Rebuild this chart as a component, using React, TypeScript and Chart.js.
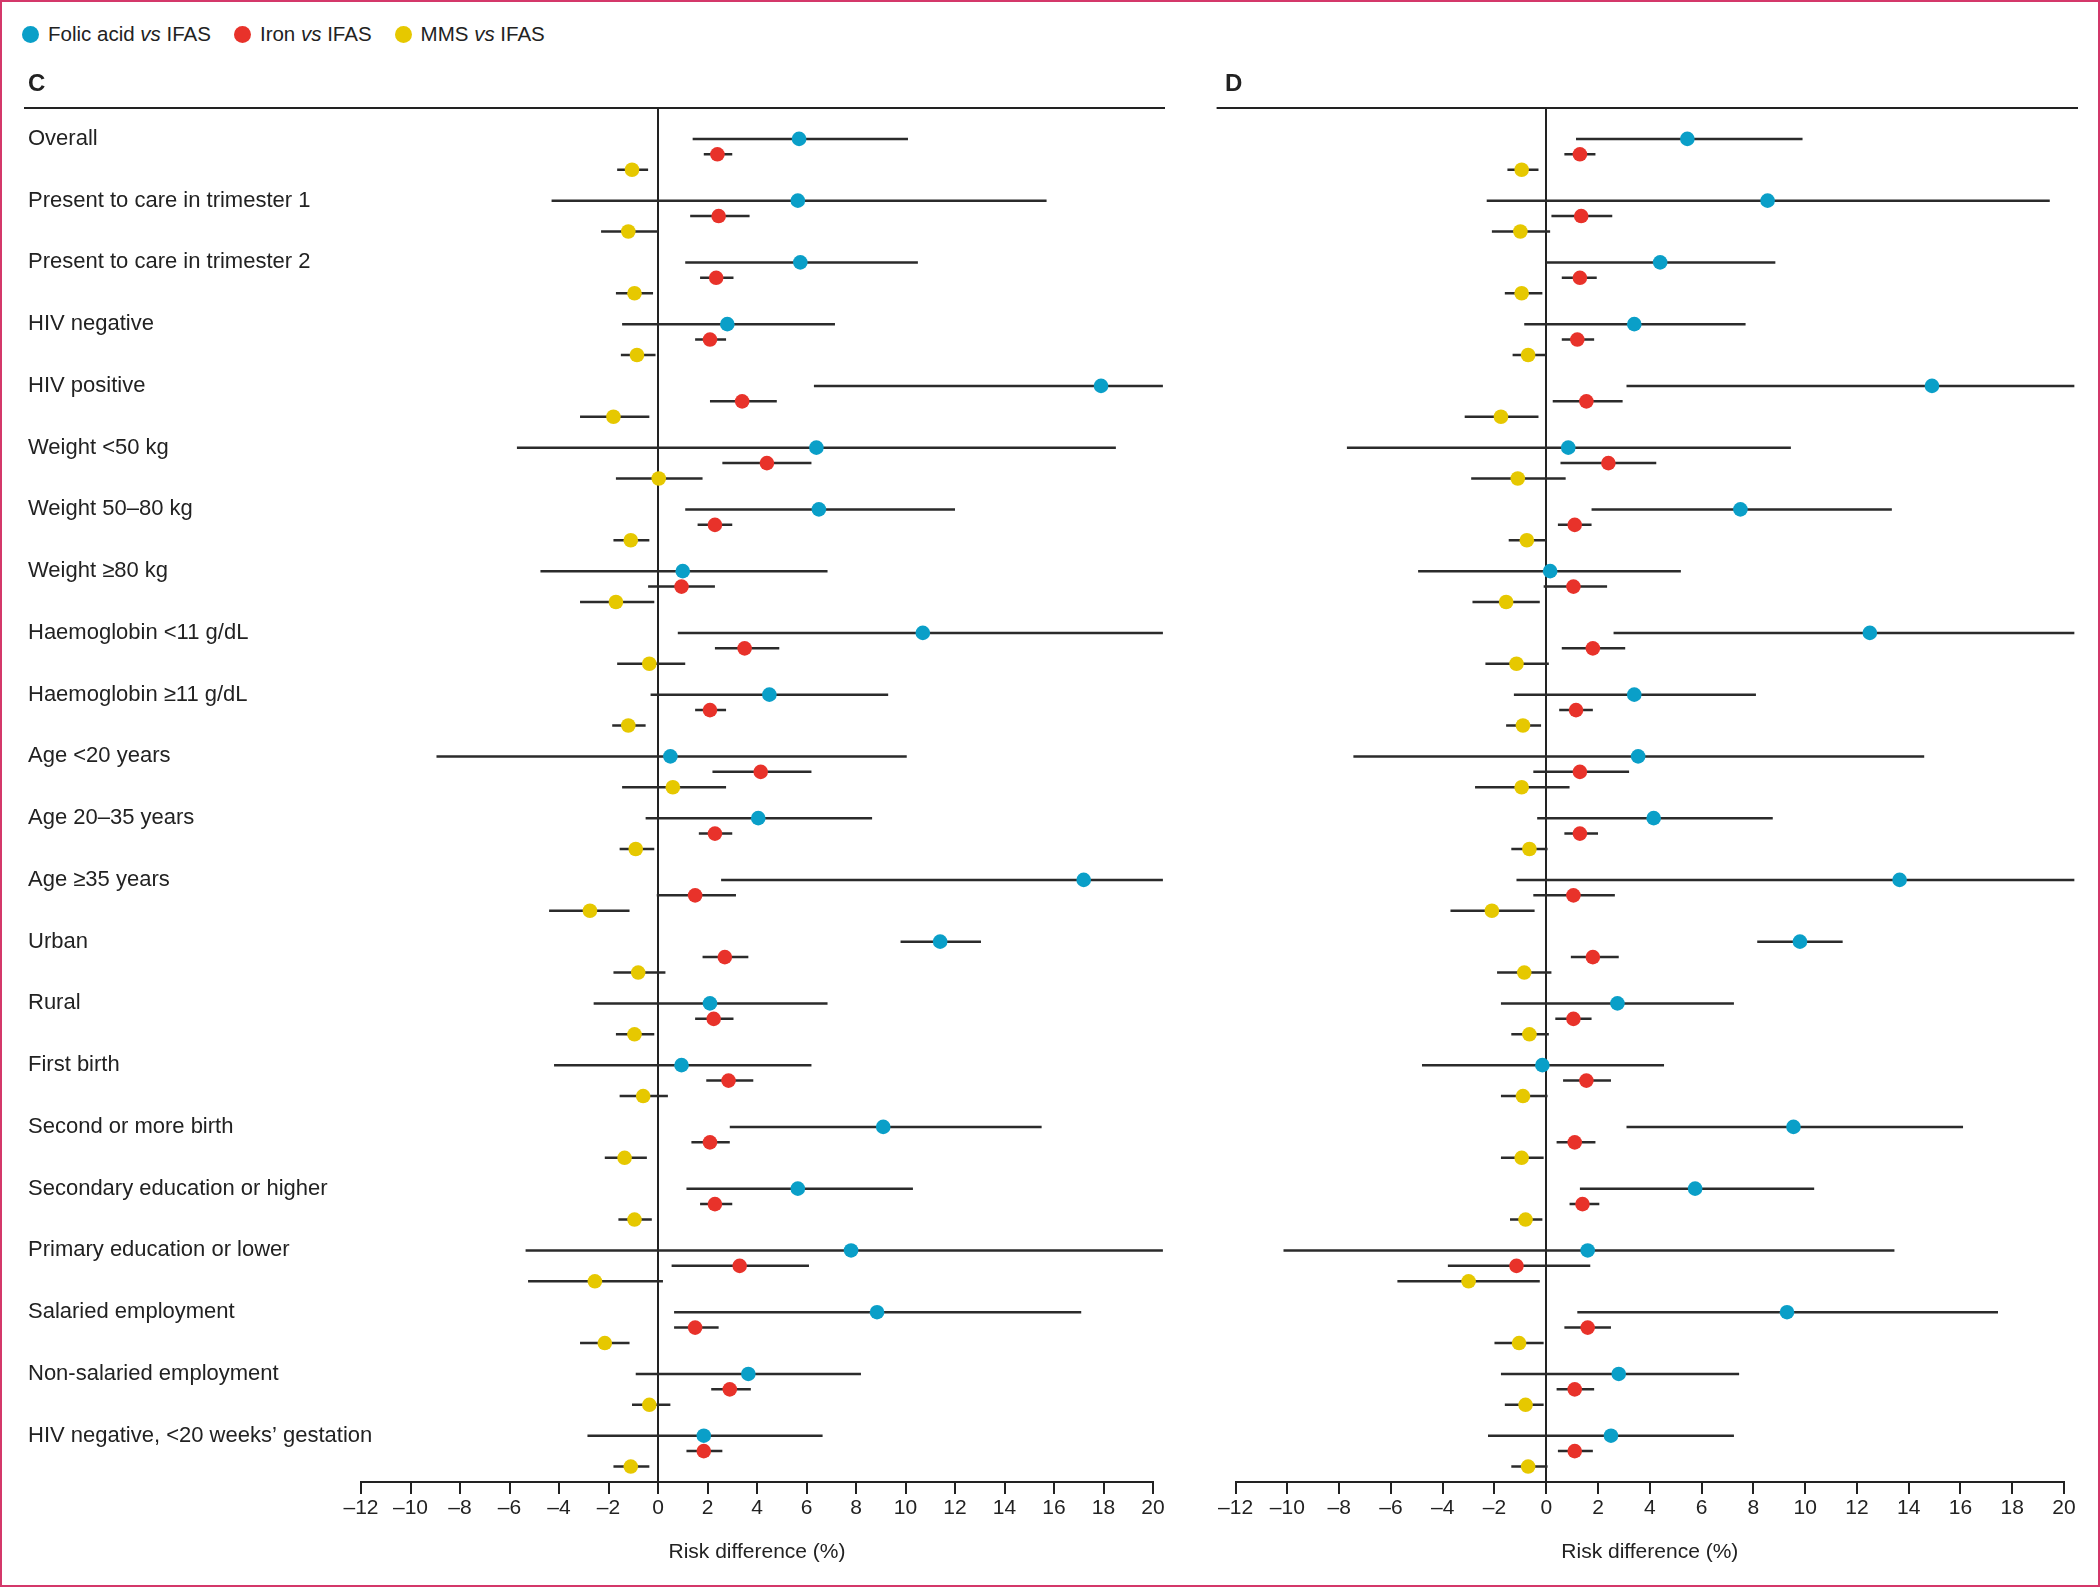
import React, { useEffect, useRef } from 'react';
import { Chart, registerables } from 'chart.js';

Chart.register(...registerables);

const FONT = "'Liberation Sans', Arial, Helvetica, sans-serif";
const INK = '#222222';

const subgroups = [
  'Overall',
  'Present to care in trimester 1',
  'Present to care in trimester 2',
  'HIV negative',
  'HIV positive',
  'Weight <50 kg',
  'Weight 50–80 kg',
  'Weight ≥80 kg',
  'Haemoglobin <11 g/dL',
  'Haemoglobin ≥11 g/dL',
  'Age <20 years',
  'Age 20–35 years',
  'Age ≥35 years',
  'Urban',
  'Rural',
  'First birth',
  'Second or more birth',
  'Secondary education or higher',
  'Primary education or lower',
  'Salaried employment',
  'Non-salaried employment',
  'HIV negative, <20 weeks’ gestation',
];

const seriesNames = ['Folic acid', 'Iron', 'MMS'];
const seriesColors = ['#0a9fc8', '#e8322a', '#e6c800'];

const xTicksMin = -12;
const xTicksMax = 20;
const xTickStep = 2;

// Panel C
const folicC = [5.7, 5.65, 5.75, 2.8, 17.9, 6.4, 6.5, 1.0, 10.7, 4.5, 0.5, 4.05, 17.2, 11.4, 2.1, 0.95, 9.1, 5.65, 7.8, 8.85, 3.65, 1.85];
const folicCLo = [1.4, -4.3, 1.1, -1.45, 6.3, -5.7, 1.1, -4.75, 0.8, -0.3, -8.95, -0.5, 2.55, 9.8, -2.6, -4.2, 2.9, 1.15, -5.35, 0.65, -0.9, -2.85];
const folicCHi = [10.1, 15.7, 10.5, 7.15, 20.4, 18.5, 12.0, 6.85, 20.4, 9.3, 10.05, 8.65, 20.4, 13.05, 6.85, 6.2, 15.5, 10.3, 20.4, 17.1, 8.2, 6.65];
const ironC = [2.4, 2.45, 2.35, 2.1, 3.4, 4.4, 2.3, 0.95, 3.5, 2.1, 4.15, 2.3, 1.5, 2.7, 2.25, 2.85, 2.1, 2.3, 3.3, 1.5, 2.9, 1.85];
const ironCLo = [1.85, 1.3, 1.7, 1.5, 2.1, 2.6, 1.6, -0.4, 2.3, 1.5, 2.2, 1.65, -0.05, 1.8, 1.5, 1.95, 1.35, 1.7, 0.55, 0.65, 2.15, 1.15];
const ironCHi = [3.0, 3.7, 3.05, 2.75, 4.8, 6.2, 3.0, 2.3, 4.9, 2.75, 6.2, 3.0, 3.15, 3.65, 3.05, 3.85, 2.9, 3.0, 6.1, 2.45, 3.75, 2.6];
const mmsC = [-1.05, -1.2, -0.95, -0.85, -1.8, 0.03, -1.1, -1.7, -0.35, -1.2, 0.6, -0.9, -2.75, -0.8, -0.95, -0.6, -1.35, -0.95, -2.55, -2.15, -0.35, -1.1];
const mmsCLo = [-1.65, -2.3, -1.7, -1.5, -3.15, -1.7, -1.8, -3.15, -1.65, -1.85, -1.45, -1.55, -4.4, -1.8, -1.7, -1.55, -2.15, -1.6, -5.25, -3.15, -1.05, -1.8];
const mmsCHi = [-0.4, 0.0, -0.2, -0.1, -0.35, 1.8, -0.35, -0.15, 1.1, -0.5, 2.75, -0.15, -1.15, 0.3, -0.15, 0.4, -0.45, -0.25, 0.2, -1.15, 0.5, -0.35];

// Panel D
const folicD = [5.45, 8.55, 4.4, 3.4, 14.9, 0.85, 7.5, 0.15, 12.5, 3.4, 3.55, 4.15, 13.65, 9.8, 2.75, -0.15, 9.55, 5.75, 1.6, 9.3, 2.8, 2.5];
const folicDLo = [1.15, -2.3, 0.0, -0.85, 3.1, -7.7, 1.75, -4.95, 2.6, -1.25, -7.45, -0.35, -1.15, 8.15, -1.75, -4.8, 3.1, 1.3, -10.15, 1.2, -1.75, -2.25];
const folicDHi = [9.9, 19.45, 8.85, 7.7, 20.4, 9.45, 13.35, 5.2, 20.4, 8.1, 14.6, 8.75, 20.4, 11.45, 7.25, 4.55, 16.1, 10.35, 13.45, 17.45, 7.45, 7.25];
const ironD = [1.3, 1.35, 1.3, 1.2, 1.55, 2.4, 1.1, 1.05, 1.8, 1.15, 1.3, 1.3, 1.05, 1.8, 1.05, 1.55, 1.1, 1.4, -1.15, 1.6, 1.1, 1.1];
const ironDLo = [0.7, 0.2, 0.6, 0.6, 0.25, 0.55, 0.45, -0.1, 0.6, 0.5, -0.5, 0.7, -0.5, 0.95, 0.35, 0.65, 0.4, 0.9, -3.8, 0.7, 0.4, 0.45];
const ironDHi = [1.9, 2.55, 1.95, 1.85, 2.95, 4.25, 1.75, 2.35, 3.05, 1.8, 3.2, 2.0, 2.65, 2.8, 1.75, 2.5, 1.9, 2.05, 1.7, 2.5, 1.85, 1.8];
const mmsD = [-0.95, -1.0, -0.95, -0.7, -1.75, -1.1, -0.75, -1.55, -1.15, -0.9, -0.95, -0.65, -2.1, -0.85, -0.65, -0.9, -0.95, -0.8, -3.0, -1.05, -0.8, -0.7];
const mmsDLo = [-1.5, -2.1, -1.6, -1.3, -3.15, -2.9, -1.45, -2.85, -2.35, -1.55, -2.75, -1.35, -3.7, -1.9, -1.35, -1.75, -1.75, -1.4, -5.75, -2.0, -1.6, -1.35];
const mmsDHi = [-0.3, 0.15, -0.15, 0.0, -0.3, 0.75, 0.0, -0.25, 0.1, -0.2, 0.9, 0.05, -0.45, 0.2, 0.1, 0.05, -0.1, -0.15, -0.25, -0.1, -0.1, 0.05];

const SLOTS_PER_GROUP = 4;

type Series = { est: number[]; lo: number[]; hi: number[] };

const topRule = {
  id: 'topRule',
  beforeDatasetsDraw(chart: any, _args: any, opts: any) {
    const { ctx, chartArea } = chart;
    ctx.save();
    ctx.strokeStyle = INK;
    ctx.lineWidth = 2;
    ctx.beginPath();
    ctx.moveTo(chartArea.left - opts.extendLeft, chartArea.top);
    ctx.lineTo(chartArea.right + opts.extendRight, chartArea.top);
    ctx.stroke();
    ctx.restore();
  },
};

function buildDatasets(series: Series[]) {
  const ds: any[] = [];
  series.forEach((s, si) => {
    const ci: any[] = [];
    s.est.forEach((_, g) => {
      const y = g * SLOTS_PER_GROUP + si;
      ci.push({ x: s.lo[g], y });
      ci.push({ x: s.hi[g], y });
      ci.push({ x: NaN, y: NaN });
    });
    ds.push({
      label: seriesNames[si] + ' CI',
      data: ci,
      showLine: true,
      spanGaps: false,
      borderColor: '#2b2b2b',
      borderWidth: 2.5,
      pointRadius: 0,
      pointHoverRadius: 0,
      fill: false,
      clip: false,
      order: 2,
    });
  });
  series.forEach((s, si) => {
    ds.push({
      label: seriesNames[si] + ' vs IFAS',
      data: s.est.map((v, g) => ({ x: v, y: g * SLOTS_PER_GROUP + si })),
      showLine: false,
      pointRadius: 7.3,
      pointHoverRadius: 7.3,
      pointBackgroundColor: seriesColors[si],
      pointBorderWidth: 0,
      backgroundColor: seriesColors[si],
      borderColor: seriesColors[si],
      clip: false,
      order: 1,
    });
  });
  return ds;
}

type PanelProps = {
  letter: string;
  series: Series[];
  showLabels: boolean;
  left: number;
  width: number;
  padLeft: number;
  yWidth: number;
  padRight: number;
  extendLeft: number;
  extendRight: number;
};

const HEIGHT = 1587;

function Panel(p: PanelProps) {
  const ref = useRef<HTMLCanvasElement | null>(null);
  useEffect(() => {
    if (!ref.current) return;
    const nGroups = subgroups.length;
    const chart = new Chart(ref.current, {
      type: 'scatter',
      data: { datasets: buildDatasets(p.series) },
      plugins: [topRule],
      options: {
        responsive: false,
        animation: false,
        events: [],
        layout: { padding: { left: p.padLeft, right: p.padRight, top: 69.6, bottom: 0 } },
        plugins: {
          legend: { display: false },
          tooltip: { enabled: false },
          title: {
            display: true,
            text: p.letter,
            align: 'start',
            color: INK,
            font: { family: FONT, size: 24, weight: 'bold', lineHeight: 1.2 },
            padding: { top: 0, bottom: 9.6 },
          },
          topRule: { extendLeft: p.extendLeft, extendRight: p.extendRight },
        } as any,
        scales: {
          x: {
            type: 'linear',
            min: xTicksMin,
            max: xTicksMax,
            afterFit: (s: any) => {
              s.height = 105;
            },
            ticks: {
              stepSize: xTickStep,
              autoSkip: false,
              maxRotation: 0,
              padding: 2,
              color: INK,
              font: { family: FONT, size: 21 },
              callback: (v: any) => (Number(v) < 0 ? '\u2013' + Math.abs(Number(v)) : String(v)),
            },
            grid: {
              drawOnChartArea: true,
              color: (ctx: any) => (ctx.tick && ctx.tick.value === 0 ? INK : 'rgba(0,0,0,0)'),
              lineWidth: 2,
              drawTicks: true,
              tickLength: 12,
              tickColor: INK,
              tickWidth: 2,
            },
            border: { display: true, color: INK, width: 2 },
            title: {
              display: true,
              text: 'Risk difference (%)',
              color: INK,
              font: { family: FONT, size: 21, lineHeight: 1.2 },
              padding: { top: 0, bottom: 22 },
            },
          },
          y: {
            type: 'linear',
            reverse: true,
            min: -2,
            max: (nGroups - 1) * SLOTS_PER_GROUP + 3,
            afterFit: (s: any) => {
              s.width = p.yWidth;
            },
            afterBuildTicks: (s: any) => {
              s.ticks = subgroups.map((_, i) => ({ value: i * SLOTS_PER_GROUP }));
            },
            ticks: {
              display: p.showLabels,
              autoSkip: false,
              mirror: true,
              padding: -p.yWidth,
              color: INK,
              font: { family: FONT, size: 22 },
              callback: (_v: any, i: number) => subgroups[i],
            },
            grid: { display: false, drawTicks: false },
            border: { display: false },
          },
        },
      } as any,
    });
    return () => chart.destroy();
  }, []);
  return (
    <canvas
      ref={ref}
      width={p.width}
      height={HEIGHT}
      style={{ position: 'absolute', left: p.left, top: 0, width: p.width, height: HEIGHT }}
    />
  );
}

function Legend() {
  const item = (i: number) => (
    <span key={i} style={{ display: 'inline-flex', alignItems: 'center', marginRight: 23 }}>
      <span
        style={{
          display: 'inline-block',
          width: 17,
          height: 17,
          borderRadius: '50%',
          background: seriesColors[i],
          marginRight: 9,
        }}
      />
      <span>
        {seriesNames[i]} <i>vs</i> IFAS
      </span>
    </span>
  );
  return (
    <div
      style={{
        position: 'absolute',
        left: 22,
        top: 22,
        height: 24,
        lineHeight: '24px',
        fontFamily: FONT,
        fontSize: 20.5,
        color: INK,
        display: 'flex',
        alignItems: 'center',
        whiteSpace: 'nowrap',
      }}
    >
      {[0, 1, 2].map(item)}
    </div>
  );
}

export default function App() {
  const seriesC: Series[] = [
    { est: folicC, lo: folicCLo, hi: folicCHi },
    { est: ironC, lo: ironCLo, hi: ironCHi },
    { est: mmsC, lo: mmsCLo, hi: mmsCHi },
  ];
  const seriesD: Series[] = [
    { est: folicD, lo: folicDLo, hi: folicDHi },
    { est: ironD, lo: ironDLo, hi: ironDHi },
    { est: mmsD, lo: mmsDLo, hi: mmsDHi },
  ];
  return (
    <div
      style={{
        position: 'fixed',
        left: 0,
        top: 0,
        width: 2100,
        height: HEIGHT,
        background: '#ffffff',
        overflow: 'hidden',
      }}
    >
      <Legend />
      <Panel
        letter="C"
        series={seriesC}
        showLabels={true}
        left={0}
        width={1190}
        padLeft={28}
        yWidth={333}
        padRight={37}
        extendLeft={337}
        extendRight={12}
      />
      <Panel
        letter="D"
        series={seriesD}
        showLabels={false}
        left={1190}
        width={910}
        padLeft={35}
        yWidth={10.6}
        padRight={36}
        extendLeft={19}
        extendRight={14}
      />
      <div
        style={{
          position: 'absolute',
          left: 0,
          top: 0,
          width: 2100,
          height: HEIGHT,
          boxSizing: 'border-box',
          border: '2px solid #d4386a',
          pointerEvents: 'none',
        }}
      />
    </div>
  );
}
